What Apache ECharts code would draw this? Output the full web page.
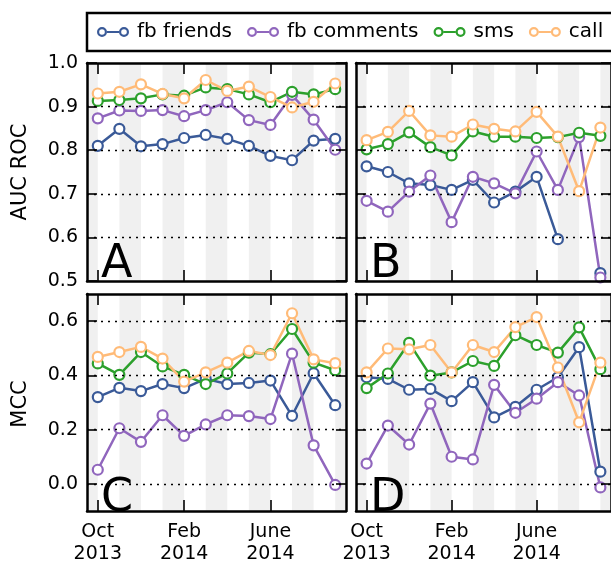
<!DOCTYPE html>
<html>
<head>
<meta charset="utf-8">
<script src="https://cdn.jsdelivr.net/npm/echarts@6/dist/echarts.min.js"></script>
<style>
html, body { margin: 0; padding: 0; background: #fff; }
#main { width: 611px; height: 565px; }
</style>
</head>
<body>
<div id="main"></div>
<script>
// months on the x axis (index 0 = Oct 2013)
var months = ['Oct 2013', 'Nov 2013', 'Dec 2013', 'Jan 2014', 'Feb 2014', 'Mar 2014',
              'Apr 2014', 'May 2014', 'Jun 2014', 'Jul 2014', 'Aug 2014', 'Sep 2014'];
var tickIdx = [0, 4, 8];
var tickText = ['Oct\n2013', 'Feb\n2014', 'June\n2014'];
var aucLevels = ['0.5', '0.6', '0.7', '0.8', '0.9', '1.0'];
var mccLevels = ['-0.1', '0.0', '0.1', '0.2', '0.3', '0.4', '0.5', '0.6', '0.7'];
var aucTicks = [0.5, 0.6, 0.7, 0.8, 0.9, 1.0];
var mccTicks = [0.0, 0.2, 0.4, 0.6];
var shadeStart = [-1, 1, 3, 5, 7, 9, 11];   // grey month bands

var names = ['fb friends', 'fb comments', 'sms', 'call'];
var colors = ['#3a5a98', '#9066bd', '#2ca02c', '#ffbb78'];

// A: AUC ROC
var aFriends  = [0.810, 0.849, 0.809, 0.814, 0.828, 0.835, 0.826, 0.810, 0.787, 0.777, 0.822, 0.826];
var aComments = [0.873, 0.891, 0.890, 0.892, 0.878, 0.892, 0.910, 0.869, 0.858, 0.927, 0.870, 0.801];
var aSms      = [0.913, 0.915, 0.919, 0.928, 0.925, 0.944, 0.940, 0.928, 0.910, 0.934, 0.928, 0.940];
var aCall     = [0.930, 0.934, 0.951, 0.929, 0.919, 0.961, 0.936, 0.946, 0.922, 0.898, 0.911, 0.953];
// B: AUC ROC
var bFriends  = [0.763, 0.750, 0.724, 0.720, 0.709, 0.732, 0.680, 0.705, 0.739, 0.596, null, 0.518];
var bComments = [0.684, 0.659, 0.705, 0.742, 0.635, 0.739, 0.724, 0.701, 0.797, 0.709, 0.830, 0.508];
var bSms      = [0.802, 0.814, 0.841, 0.807, 0.788, 0.843, 0.831, 0.831, 0.828, 0.830, 0.840, 0.833];
var bCall     = [0.823, 0.842, 0.890, 0.834, 0.831, 0.859, 0.849, 0.843, 0.888, 0.831, 0.706, 0.852];
// C: MCC
var cFriends  = [0.320, 0.354, 0.342, 0.368, 0.353, 0.387, 0.368, 0.372, 0.381, 0.251, 0.408, 0.290];
var cComments = [0.052, 0.205, 0.155, 0.253, 0.177, 0.219, 0.253, 0.250, 0.239, 0.480, 0.142, -0.004];
var cSms      = [0.444, 0.402, 0.486, 0.433, 0.402, 0.368, 0.407, 0.484, 0.478, 0.571, 0.447, 0.419];
var cCall     = [0.468, 0.486, 0.505, 0.462, 0.377, 0.411, 0.447, 0.490, 0.475, 0.629, 0.459, 0.445];
// D: MCC
var dFriends  = [0.393, 0.387, 0.347, 0.350, 0.305, 0.375, 0.245, 0.284, 0.347, 0.393, 0.504, 0.045];
var dComments = [0.075, 0.215, 0.145, 0.296, 0.100, 0.090, 0.365, 0.262, 0.314, 0.375, 0.326, -0.013];
var dSms      = [0.353, 0.407, 0.520, 0.399, 0.411, 0.453, 0.435, 0.548, 0.512, 0.484, 0.577, 0.423];
var dCall     = [0.411, 0.499, 0.496, 0.512, 0.411, 0.512, 0.486, 0.578, 0.615, 0.429, 0.227, 0.447];

var FONT = 'DejaVu Sans';
var xMin = -0.5, xMax = 11.5;

var panels = [
  { letter: 'A', left: 87,  top: 63,  height: 218, levels: aucLevels, ticks: aucTicks, yLabels: true,  xLabels: false, data: [aFriends, aComments, aSms, aCall] },
  { letter: 'B', left: 356, top: 63,  height: 218, levels: aucLevels, ticks: aucTicks, yLabels: false, xLabels: false, data: [bFriends, bComments, bSms, bCall] },
  { letter: 'C', left: 87,  top: 294, height: 221, levels: mccLevels, ticks: mccTicks, yLabels: true,  xLabels: true,  data: [cFriends, cComments, cSms, cCall] },
  { letter: 'D', left: 356, top: 294, height: 221, levels: mccLevels, ticks: mccTicks, yLabels: false, xLabels: true,  data: [dFriends, dComments, dSms, dCall] }
];

var frame = { show: true, onZero: false, lineStyle: { color: '#000', width: 2.5 } };
var tickLine = { color: '#000', width: 1.6 };
var grids = [], xAxes = [], yAxes = [], series = [], graphics = [];

function isXTick(idx) { return tickIdx.indexOf(idx) >= 0; }

panels.forEach(function (p, i) {
  var yMin = +p.levels[0], yMax = +p.levels[p.levels.length - 1];
  function isYTick(idx, val) { return p.ticks.indexOf(+val) >= 0; }

  grids.push({ left: p.left, top: p.top, width: 259, height: p.height });

  // data axes (hidden)
  xAxes.push({ gridIndex: i, type: 'value', min: xMin, max: xMax, show: false });
  yAxes.push({ gridIndex: i, type: 'value', min: yMin, max: yMax, show: false });

  // frame + ticks
  ['bottom', 'top'].forEach(function (pos) {
    xAxes.push({
      gridIndex: i, type: 'category', data: months, boundaryGap: true, position: pos, z: 10,
      axisLine: frame, splitLine: { show: false },
      axisTick: { show: true, inside: true, length: 11, alignWithLabel: true, interval: isXTick, lineStyle: tickLine },
      axisLabel: {
        show: pos === 'bottom' && p.xLabels, interval: isXTick, margin: 10,
        color: '#000', fontFamily: FONT, fontSize: 19, lineHeight: 22,
        formatter: function (v, idx) { return tickText[tickIdx.indexOf(idx)] || ''; }
      }
    });
  });
  ['left', 'right'].forEach(function (pos) {
    yAxes.push({
      gridIndex: i, type: 'category', data: p.levels, boundaryGap: false, position: pos, z: 10,
      axisLine: frame, splitLine: { show: false },
      axisTick: { show: true, inside: true, length: 10, interval: isYTick, lineStyle: tickLine },
      axisLabel: {
        show: pos === 'left' && p.yLabels, interval: isYTick, margin: 9,
        color: '#000', fontFamily: FONT, fontSize: 19
      }
    });
  });

  // grey stripes + dotted grid lines
  series.push({
    name: 'bg' + i, type: 'line', xAxisIndex: 3 * i, yAxisIndex: 3 * i, data: [], z: 1,
    silent: true,
    markArea: {
      silent: true,
      itemStyle: { color: '#f0f0f0' },
      data: shadeStart.map(function (s) {
        return [{ xAxis: Math.max(s, xMin) }, { xAxis: Math.min(s + 1, xMax) }];
      })
    },
    markLine: {
      silent: true, symbol: ['none', 'none'], label: { show: false },
      lineStyle: { color: '#000', type: [2, 5], width: 1.3 },
      data: p.ticks.filter(function (v) { return v > yMin && v < yMax; })
        .map(function (v) { return { yAxis: v }; })
    }
  });

  p.data.forEach(function (arr, k) {
    series.push({
      name: names[k], type: 'line', xAxisIndex: 3 * i, yAxisIndex: 3 * i, z: 3,
      data: arr.map(function (v, m) { return [m, v]; }),
      symbol: 'circle', symbolSize: 10, showAllSymbol: true, connectNulls: false,
      color: colors[k],
      lineStyle: { color: colors[k], width: 2.5 },
      itemStyle: { color: '#fff', borderColor: colors[k], borderWidth: 2.2 }
    });
  });

  graphics.push({
    type: 'text', x: p.left + 14, y: p.top + p.height - 16, z: 10,
    style: { text: p.letter, font: '46px "' + FONT + '"', fill: '#000', textAlign: 'left', textVerticalAlign: 'middle' }
  });
});

graphics.push({
  type: 'text', x: 21, y: 172, rotation: Math.PI / 2,
  style: { text: 'AUC ROC', font: '21px "' + FONT + '"', fill: '#000', textAlign: 'center', textVerticalAlign: 'middle' }
});
graphics.push({
  type: 'text', x: 21, y: 404, rotation: Math.PI / 2,
  style: { text: 'MCC', font: '21px "' + FONT + '"', fill: '#000', textAlign: 'center', textVerticalAlign: 'middle' }
});

// o--o legend marker
var ringIcon = 'path://M0,5a5,5 0 1,0 10,0a5,5 0 1,0 -10,0ZM2.2,5a2.8,2.8 0 1,1 5.6,0a2.8,2.8 0 1,1 -5.6,0Z' +
  'M10,4.1h12v1.8h-12Z' +
  'M22,5a5,5 0 1,0 10,0a5,5 0 1,0 -10,0ZM24.2,5a2.8,2.8 0 1,1 5.6,0a2.8,2.8 0 1,1 -5.6,0Z';

var chart = echarts.init(document.getElementById('main'));
chart.setOption({
  animation: false,
  backgroundColor: '#fff',
  legend: {
    left: 87, top: 13, width: 580, orient: 'horizontal',
    itemWidth: 32, itemHeight: 10, itemGap: 15,
    padding: [9, 24, 9, 10],
    borderColor: '#000', borderWidth: 2.5,
    textStyle: { fontFamily: FONT, fontSize: 20, color: '#000', padding: [0, 0, 0, 3] },
    data: names.map(function (n, k) {
      return { name: n, icon: ringIcon, itemStyle: { color: colors[k], borderWidth: 0 } };
    })
  },
  grid: grids,
  xAxis: xAxes,
  yAxis: yAxes,
  series: series,
  graphic: graphics
});
</script>
</body>
</html>
